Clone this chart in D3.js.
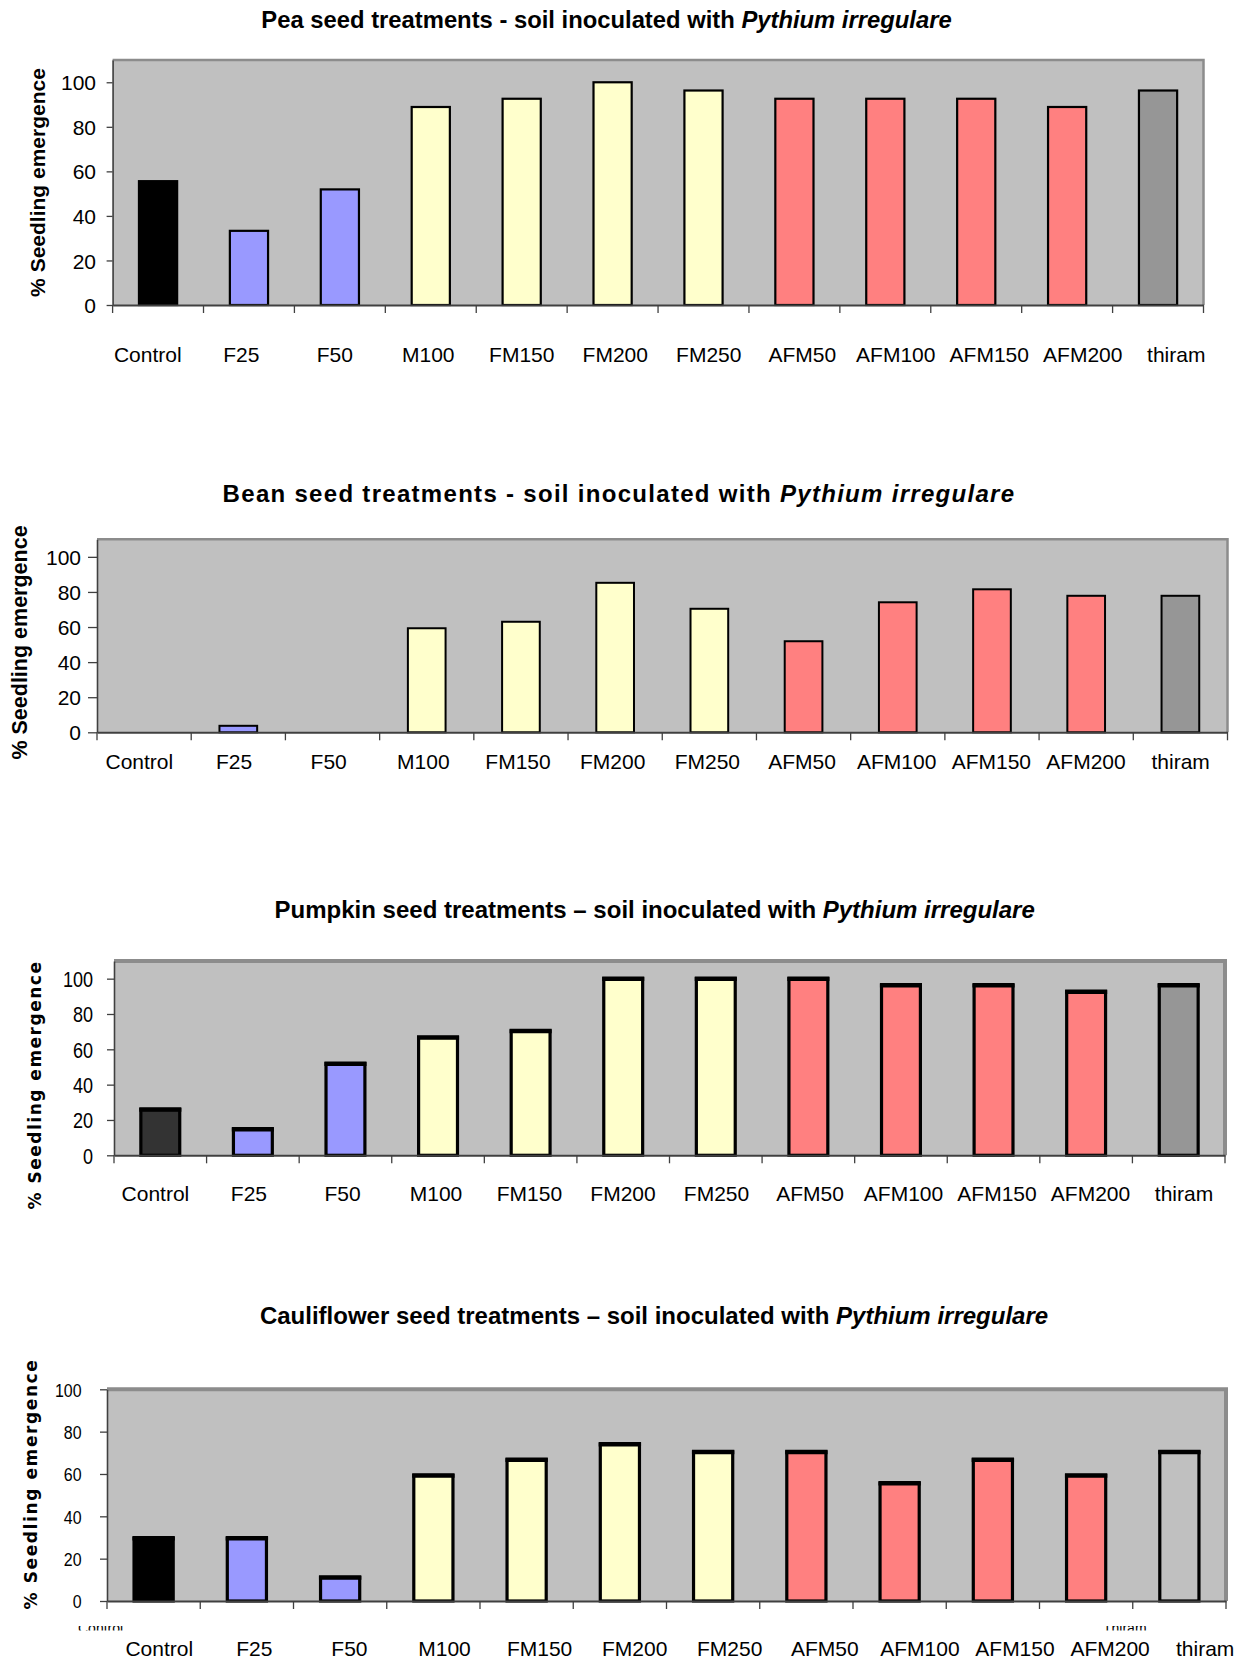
<!DOCTYPE html>
<html>
<head>
<meta charset="utf-8">
<script src="https://cdn.jsdelivr.net/npm/d3@7"></script>
<style>
  html, body { margin: 0; padding: 0; background: #ffffff; }
  svg { display: block; font-family: "Liberation Sans", Arial, Helvetica, sans-serif; }
  text { white-space: pre; }
</style>
</head>
<body>
<svg id="chart" width="1248" height="1664"></svg>
<script>
// Seed treatments, in the order they appear along each x axis
const categories = ["Control", "F25", "F50", "M100", "FM150", "FM200", "FM250",
                    "AFM50", "AFM100", "AFM150", "AFM200", "thiram"];
// Treatment family of each category (drives bar colour)
const treatmentGroup = ["control", "F", "F", "FM", "FM", "FM", "FM",
                        "AFM", "AFM", "AFM", "AFM", "thiram"];

// % seedling emergence per crop
const peaEmergence         = [55.6, 33.3, 51.9, 88.9, 92.6, 100, 96.3, 92.6, 92.6, 92.6, 88.9, 96.3];
const beanEmergence        = [0, 3.7, 0, 59.3, 63.0, 85.2, 70.4, 51.9, 74.1, 81.5, 77.8, 77.8];
const pumpkinEmergence     = [25.9, 14.8, 51.9, 66.7, 70.4, 100, 100, 100, 96.3, 96.3, 92.6, 96.3];
const cauliflowerEmergence = [29.6, 29.6, 11.1, 59.3, 66.7, 74.1, 70.4, 70.4, 55.6, 66.7, 59.3, 70.4];

const yTickValues = [0, 20, 40, 60, 80, 100];
const pathogen = "Pythium irregulare";
const yTitle = "% Seedling emergence";

const baseFills = { control: "#000000", F: "#9999FF", FM: "#FFFFCC", AFM: "#FF8080", thiram: "#969696" };

// One panel per crop: layout and styling
const panels = [
  {
    crop: "Pea", dash: "-", values: peaEmergence, yMax: 110,
    fills: baseFills,
    frame: { left: 112.6, right: 1203.5, top: 60, base: 305 }, frameStroke: 2.5,
    barFrac: 0.42, barStroke: 2.2, barCap: 0,
    title: { x: 606.5, y: 28, size: 23.8, spacing: 0 },
    yLab: { x: 37, y: 182.5, size: 21, family: null, spacing: 0 },
    yTick: { len: 6, labelRight: 96, size: 21, sx: 1 },
    xLab: { y: 362, size: 21, range: [101, 1223] }
  },
  {
    crop: "Bean", dash: "-", values: beanEmergence, yMax: 110,
    fills: baseFills,
    frame: { left: 97, right: 1227.5, top: 539.3, base: 732.3 }, frameStroke: 2.5,
    barFrac: 0.40, barStroke: 2, barCap: 0,
    title: { x: 619, y: 502, size: 24, spacing: 1.3 },
    yLab: { x: 19.6, y: 642.5, size: 21.5, family: null, spacing: 0 },
    yTick: { len: 9, labelRight: 81, size: 21, sx: 1 },
    xLab: { y: 768.5, size: 21, range: [92, 1228] }
  },
  {
    crop: "Pumpkin", dash: "\u2013", values: pumpkinEmergence, yMax: 110,
    fills: Object.assign({}, baseFills, { control: "#333333" }),
    frame: { left: 114, right: 1225, top: 961, base: 1155.3 }, frameStroke: 4,
    barFrac: 0.42, barStroke: 3.2, barCap: 4.5,
    title: { x: 654.7, y: 918, size: 24, spacing: 0 },
    yLab: { x: 34.7, y: 1085, size: 17, family: "DejaVu Sans", spacing: 1.5 },
    yTick: { len: 7, labelRight: 93, size: 22, sx: 0.82 },
    xLab: { y: 1200.5, size: 21, range: [108.7, 1230.8] }
  },
  {
    crop: "Cauliflower", dash: "\u2013", values: cauliflowerEmergence, yMax: 100,
    fills: Object.assign({}, baseFills, { thiram: "#C0C0C0" }),
    frame: { left: 107, right: 1226, top: 1389.3, base: 1601 }, frameStroke: 4,
    barFrac: 0.42, barStroke: 3.2, barCap: 4.5,
    title: { x: 654, y: 1323.5, size: 24, spacing: 0 },
    yLab: { x: 30.6, y: 1484, size: 17, family: "DejaVu Sans", spacing: 1.6 },
    yTick: { len: 7, labelRight: 81.6, size: 19, sx: 0.84 },
    xLab: { y: 1655.5, size: 21, range: [111.7, 1252.7] },
    // stray labels under the axis, showing only a thin slice
    hidden: {
      clipTop: 1626, clipBottom: 1630.5,
      items: [
        { text: "Control", x: 78, baseline: 1633, size: 14 },
        { text: "Thiram", x: 1103, baseline: 1633, size: 14 }
      ]
    }
  }
];

const svg = d3.select("#chart");
const defs = svg.append("defs");

panels.forEach((p, pi) => {
  const g = svg.append("g").attr("class", "panel-" + p.crop.toLowerCase());

  const x = d3.scaleBand()
    .domain(categories)
    .range([p.frame.left, p.frame.right])
    .padding(0);
  const y = d3.scaleLinear()
    .domain([0, p.yMax])
    .range([p.frame.base, p.frame.top]);
  const xLabel = d3.scaleBand()
    .domain(categories)
    .range(p.xLab.range)
    .padding(0);

  const [x0, x1] = x.range();
  const [yb, yt] = y.range();

  // Plot area
  g.append("rect")
    .attr("x", x0).attr("y", yt)
    .attr("width", x1 - x0).attr("height", yb - yt)
    .attr("fill", "#C0C0C0");

  // Top and right edge of the plot area
  g.append("path")
    .attr("d", `M${x0},${yt}H${x1}V${yb}`)
    .attr("fill", "none")
    .attr("stroke", "#8C8C8C")
    .attr("stroke-width", p.frameStroke);

  // Bars
  const barW = x.bandwidth() * p.barFrac;
  const barData = p.values.map((v, i) => ({ cat: categories[i], group: treatmentGroup[i], v }))
                          .filter(d => d.v > 0);
  const barX = d => x(d.cat) + (x.bandwidth() - barW) / 2;

  g.selectAll("rect.bar")
    .data(barData)
    .join("rect")
    .attr("class", "bar")
    .attr("x", barX)
    .attr("y", d => y(d.v))
    .attr("width", barW)
    .attr("height", d => y(0) - y(d.v))
    .attr("fill", d => p.fills[d.group])
    .attr("stroke", "#000")
    .attr("stroke-width", p.barStroke);

  if (p.barCap > 0) {
    g.selectAll("line.cap")
      .data(barData)
      .join("line")
      .attr("class", "cap")
      .attr("x1", d => barX(d) - p.barStroke / 2)
      .attr("x2", d => barX(d) + barW + p.barStroke / 2)
      .attr("y1", d => y(d.v))
      .attr("y2", d => y(d.v))
      .attr("stroke", "#000")
      .attr("stroke-width", p.barCap);
  }

  // Y axis
  const pad = (x0 - p.yTick.len) - p.yTick.labelRight;
  const yAxis = d3.axisLeft(y)
    .tickValues(yTickValues)
    .tickSize(p.yTick.len)
    .tickSizeOuter(0)
    .tickPadding(pad)
    .tickFormat(d3.format("d"));
  const ya = g.append("g")
    .attr("transform", `translate(${x0},0)`)
    .call(yAxis)
    .attr("font-family", null)
    .attr("font-size", null);
  ya.select(".domain").attr("stroke", "#404040").attr("stroke-width", 1.6);
  ya.selectAll(".tick line").attr("stroke", "#404040").attr("stroke-width", 1.3);
  ya.selectAll(".tick text")
    .attr("fill", "#000")
    .attr("font-size", p.yTick.size)
    .attr("x", -(p.yTick.len + pad) / p.yTick.sx)
    .attr("dy", "0.36em")
    .attr("transform", `scale(${p.yTick.sx},1)`);

  // X axis: baseline plus ticks at category boundaries
  const xa = g.append("g")
    .attr("transform", `translate(0,${yb})`)
    .call(d3.axisBottom(x).tickSize(0).tickSizeOuter(0).tickFormat(""));
  xa.select(".domain").attr("stroke", "#404040").attr("stroke-width", 2);
  xa.selectAll(".tick").remove();
  const bounds = categories.map(c => x(c)).concat([x1]);
  xa.selectAll("line.bound")
    .data(bounds)
    .join("line")
    .attr("class", "bound")
    .attr("x1", d => d).attr("x2", d => d)
    .attr("y1", 0).attr("y2", 8)
    .attr("stroke", "#404040")
    .attr("stroke-width", 1.3);

  // Category labels
  g.selectAll("text.cat")
    .data(categories)
    .join("text")
    .attr("class", "cat")
    .attr("x", d => xLabel(d) + xLabel.bandwidth() / 2)
    .attr("y", p.xLab.y)
    .attr("text-anchor", "middle")
    .attr("font-size", p.xLab.size)
    .attr("fill", "#000")
    .text(d => d);

  // Stray labels, clipped to a thin strip
  if (p.hidden) {
    const clipId = "clip-" + pi;
    defs.append("clipPath").attr("id", clipId)
      .append("rect")
      .attr("x", 0).attr("y", p.hidden.clipTop)
      .attr("width", 1248).attr("height", p.hidden.clipBottom - p.hidden.clipTop);
    const hg = g.append("g").attr("clip-path", `url(#${clipId})`);
    hg.selectAll("text")
      .data(p.hidden.items)
      .join("text")
      .attr("x", d => d.x)
      .attr("y", d => d.baseline)
      .attr("font-size", d => d.size)
      .attr("fill", "#000")
      .text(d => d.text);
  }

  // Y axis title
  const yl = g.append("text")
    .attr("transform", `translate(${p.yLab.x},${p.yLab.y}) rotate(-90)`)
    .attr("text-anchor", "middle")
    .attr("dy", "0.36em")
    .attr("font-weight", "bold")
    .attr("font-size", p.yLab.size)
    .attr("letter-spacing", p.yLab.spacing)
    .attr("fill", "#000")
    .text(yTitle);
  if (p.yLab.family) yl.attr("font-family", p.yLab.family);

  // Chart title
  const t = g.append("text")
    .attr("x", p.title.x)
    .attr("y", p.title.y)
    .attr("text-anchor", "middle")
    .attr("font-weight", "bold")
    .attr("font-size", p.title.size)
    .attr("letter-spacing", p.title.spacing)
    .attr("fill", "#000");
  t.append("tspan").text(`${p.crop} seed treatments ${p.dash} soil inoculated with `);
  t.append("tspan").attr("font-style", "italic").text(pathogen);
});
</script>
</body>
</html>
